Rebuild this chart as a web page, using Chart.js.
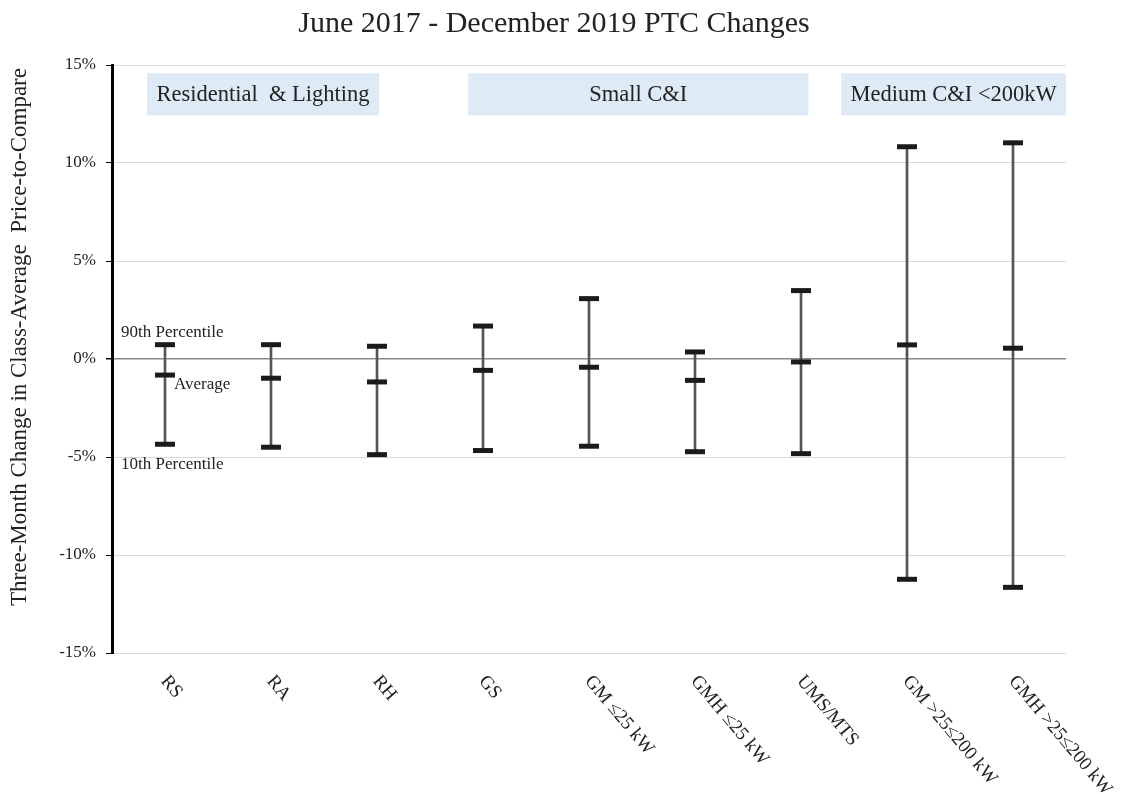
<!DOCTYPE html>
<html>
<head>
<meta charset="utf-8">
<script src="https://cdn.jsdelivr.net/npm/chart.js@4.4.1/dist/chart.umd.min.js"></script>
<style>
  html, body { margin: 0; padding: 0; background: #fff; }
  #wrap { width: 1125px; height: 794px; position: relative; }
</style>
</head>
<body>
<div id="wrap"><canvas id="ptc"></canvas></div>
<script>
// rate classes on the x axis
const categories = ['RS', 'RA', 'RH', 'GS', 'GM \u226425 kW', 'GMH \u226425 kW', 'UMS/MTS', 'GM >25\u2264200 kW', 'GMH >25\u2264200 kW'];

// three-month change, percent
const p90 = [0.73, 0.73, 0.65, 1.68, 3.08, 0.36, 3.49, 10.83, 11.03];
const avg = [-0.82, -0.98, -1.17, -0.58, -0.42, -1.09, -0.15, 0.72, 0.55];
const p10 = [-4.35, -4.50, -4.88, -4.67, -4.45, -4.73, -4.83, -11.24, -11.65];

const yTicks = [-15, -10, -5, 0, 5, 10, 15];

// group headers: [label, first index, last index]
const groups = [
  ['Residential  & Lighting', -0.17, 2.02],
  ['Small C&I', 2.86, 6.07],
  ['Medium C&I <200kW', 6.38, 8.5]
];

const SERIF = "'Liberation Serif', 'Times New Roman', serif";
const TEXT = '#222';
const TITLE = 'June 2017 - December 2019 PTC Changes';
const Y_TITLE = 'Three-Month Change in Class-Average  Price-to-Compare';

const stems = p10.map((lo, i) => [lo, p90[i]]);

// draws group boxes behind the data
const groupBoxes = {
  id: 'groupBoxes',
  beforeDatasetsDraw(chart) {
    const { ctx, scales: { x, y } } = chart;
    ctx.save();
    ctx.font = '22.5px ' + SERIF;
    ctx.textAlign = 'center';
    ctx.textBaseline = 'middle';
    groups.forEach(g => {
      const x0 = x.getPixelForValue(g[1]);
      const x1 = x.getPixelForValue(g[2]);
      const y0 = y.getPixelForValue(14.58);
      const y1 = y.getPixelForValue(12.43);
      ctx.fillStyle = '#deeaf6';
      ctx.fillRect(x0, y0, x1 - x0, y1 - y0);
      ctx.fillStyle = TEXT;
      ctx.fillText(g[0], (x0 + x1) / 2, (y0 + y1) / 2 + 1);
    });
    ctx.restore();
  }
};

// title, notes beside the first bar, y title, slanted category labels
const notes = {
  id: 'notes',
  afterDraw(chart) {
    const { ctx, chartArea, scales: { x, y } } = chart;
    ctx.save();
    ctx.fillStyle = TEXT;

    // the original title is not centred on the canvas, so place it by hand
    ctx.font = '30px ' + SERIF;
    ctx.textAlign = 'center';
    ctx.textBaseline = 'middle';
    ctx.fillText(TITLE, 554, 24);

    ctx.font = '17px ' + SERIF;
    ctx.textBaseline = 'alphabetic';
    ctx.textAlign = 'left';
    const x0 = x.getPixelForValue(0);
    ctx.fillText('90th Percentile', 121, y.getPixelForValue(p90[0]) - 8);
    ctx.fillText('Average', x0 + 9, y.getPixelForValue(avg[0]) + 14);
    ctx.fillText('10th Percentile', 121, y.getPixelForValue(p10[0]) + 25);

    // y axis title, sits a little above the plot centre like the original
    ctx.save();
    ctx.font = '23px ' + SERIF;
    ctx.textAlign = 'center';
    ctx.textBaseline = 'middle';
    ctx.translate(20, (chartArea.top + chartArea.bottom) / 2 - 22);
    ctx.rotate(-Math.PI / 2);
    ctx.fillText(Y_TITLE, 0, 0);
    ctx.restore();

    ctx.font = '19px ' + SERIF;
    ctx.textBaseline = 'middle';
    categories.forEach((c, i) => {
      const px = x.getPixelForValue(i);
      ctx.save();
      ctx.translate(px - 1, chartArea.bottom + 25);
      ctx.rotate(50 * Math.PI / 180);
      ctx.fillText(c, 0, 0);
      ctx.restore();
    });
    ctx.restore();
  }
};

new Chart(document.getElementById('ptc'), {
  data: {
    labels: categories,
    datasets: [
      {
        type: 'line', label: '90th Percentile', data: p90, showLine: false,
        pointStyle: 'line', pointRadius: 10, pointBorderWidth: 5,
        borderColor: '#1b1b1b', backgroundColor: '#1b1b1b', order: 1
      },
      {
        type: 'line', label: 'Average', data: avg, showLine: false,
        pointStyle: 'line', pointRadius: 10, pointBorderWidth: 5,
        borderColor: '#1b1b1b', backgroundColor: '#1b1b1b', order: 1
      },
      {
        type: 'line', label: '10th Percentile', data: p10, showLine: false,
        pointStyle: 'line', pointRadius: 10, pointBorderWidth: 5,
        borderColor: '#1b1b1b', backgroundColor: '#1b1b1b', order: 1
      },
      {
        type: 'bar', label: 'Range', data: stems,
        barThickness: 2, backgroundColor: '#555', borderWidth: 0, order: 2
      }
    ]
  },
  options: {
    responsive: true,
    maintainAspectRatio: false,
    animation: false,
    layout: { padding: { left: 0, right: 59, top: 65, bottom: 0 } },
    plugins: {
      legend: { display: false },
      tooltip: { enabled: false },
      title: { display: false }
    },
    scales: {
      x: {
        type: 'category',
        offset: true,
        grid: { display: false },
        border: { display: false },
        ticks: { display: false },
        afterFit(s) { s.height = 141; }
      },
      y: {
        min: -15, max: 15,
        afterBuildTicks(s) { s.ticks = yTicks.map(v => ({ value: v })); },
        grid: {
          color: ctx => ctx.tick && ctx.tick.value === 0 ? '#8a8a8a' : '#d9d9d9',
          lineWidth: ctx => ctx.tick && ctx.tick.value === 0 ? 1.5 : 1,
          tickColor: '#000',
          tickLength: 6
        },
        border: { display: true, color: '#000', width: 3 },
        ticks: {
          color: TEXT,
          padding: 10,
          font: { family: SERIF, size: 17 },
          callback: v => v + '%'
        },
        afterFit(s) { s.width = 112; }
      }
    }
  },
  plugins: [groupBoxes, notes]
});
</script>
</body>
</html>
